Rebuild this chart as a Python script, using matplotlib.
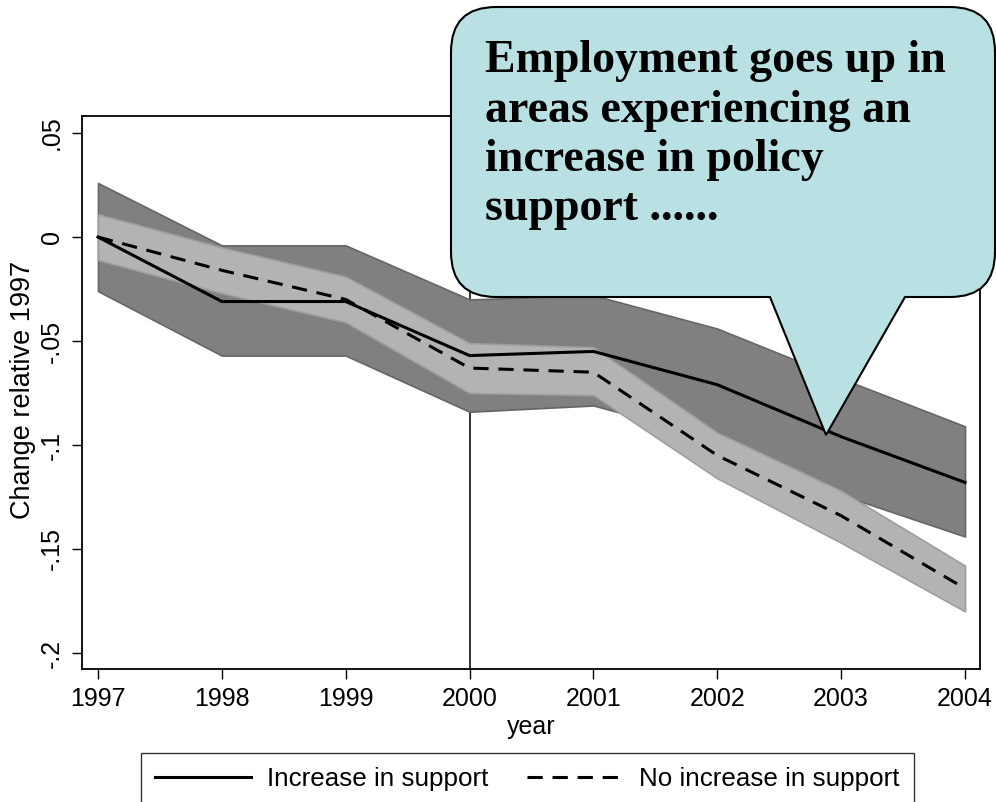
import numpy as np
import matplotlib.pyplot as plt
from matplotlib.path import Path
from matplotlib.patches import PathPatch

plt.rcParams['font.family'] = ['Liberation Sans', 'DejaVu Sans']

years = [1997, 1998, 1999, 2000, 2001, 2002, 2003, 2004]

# increase in support
inc = [0.0, -0.031, -0.031, -0.057, -0.055, -0.071, -0.096, -0.118]
inc_hi = [0.026, -0.004, -0.004, -0.030, -0.028, -0.044, -0.068, -0.091]
inc_lo = [-0.026, -0.057, -0.057, -0.084, -0.081, -0.097, -0.124, -0.144]

# no increase in support
noinc = [0.0, -0.016, -0.030, -0.063, -0.065, -0.105, -0.134, -0.169]
noinc_hi = [0.011, -0.005, -0.019, -0.051, -0.053, -0.094, -0.122, -0.158]
noinc_lo = [-0.011, -0.027, -0.041, -0.075, -0.076, -0.116, -0.147, -0.180]

yticks = [0.05, 0, -0.05, -0.1, -0.15, -0.2]
ytick_labels = ['.05', '0', '-.05', '-.1', '-.15', '-.2']

bubble_lines = ['Employment goes up in', 'areas experiencing an',
                'increase in policy', 'support ......']

W, H = 996, 802
fig = plt.figure(figsize=(W / 100, H / 100), dpi=100)
ax = fig.add_axes([82 / W, 1 - 669 / H, (980 - 82) / W, (669 - 116) / H])

ax.fill_between(years, inc_lo, inc_hi, facecolor='#808080', edgecolor='#666666', lw=1.2, zorder=1)
ax.fill_between(years, noinc_lo, noinc_hi, facecolor='#b3b3b3', edgecolor='#9e9e9e', lw=1.2, zorder=2)
ax.plot(years, inc, color='black', lw=2.2, zorder=3, label='Increase in support')
ax.plot(years, noinc, color='black', lw=2.2, ls=(0, (5, 3.2)), zorder=3, label='No increase in support')
ax.axvline(2000, color='#222222', lw=1.3, zorder=0)

ax.set_xlim(1996.871, 2004.121)
ax.set_ylim(-0.2077, 0.0582)
ax.set_xticks(years)
ax.set_xticklabels([str(y) for y in years], fontsize=18)
ax.set_yticks(yticks)
ax.set_yticklabels(ytick_labels, fontsize=18, rotation=90, va='center')
ax.tick_params(length=7, width=1, pad=6)
for s in ax.spines.values():
    s.set_linewidth(1.3)

fig.text(23 / W, 1 - 390 / H, 'Change relative 1997', rotation=90, fontsize=19.5, ha='center', va='center')
fig.text(531 / W, 1 - 727 / H, 'year', fontsize=18, ha='center', va='center')

leg = fig.legend(loc='upper left', bbox_to_anchor=(141 / W, 1 - 753 / H), ncol=2, fontsize=18.7,
                 frameon=True, fancybox=False, edgecolor='black', handlelength=3.7,
                 handletextpad=0.6, borderpad=0.55, borderaxespad=0, columnspacing=1.5)
leg.get_frame().set_linewidth(1.0)

# speech bubble, in pixel coordinates (image y from top)
L, R, T, B, r = 451, 995, 7, 297, 45
tip = (826, 435)
verts = [(L + r, T), (R - r, T), (R, T), (R, T + r), (R, B - r), (R, B), (R - r, B),
         (905, B), tip, (770, B), (L + r, B), (L, B), (L, B - r), (L, T + r), (L, T), (L + r, T)]
codes = [Path.MOVETO, Path.LINETO, Path.CURVE3, Path.CURVE3, Path.LINETO, Path.CURVE3, Path.CURVE3,
         Path.LINETO, Path.LINETO, Path.LINETO, Path.LINETO, Path.CURVE3, Path.CURVE3, Path.LINETO,
         Path.CURVE3, Path.CURVE3]
verts = [(x / W, 1 - y / H) for x, y in verts]
bubble = PathPatch(Path(verts, codes), facecolor='#b9e0e3', edgecolor='black', lw=1.5,
                   transform=fig.transFigure, zorder=10)
fig.add_artist(bubble)

for i, line in enumerate(bubble_lines):
    fig.text(485 / W, 1 - (72 + 49.5 * i) / H, line, fontsize=33, fontweight='bold',
             family=['Liberation Serif', 'DejaVu Serif'], ha='left', va='baseline', zorder=11)

fig.savefig('out.png', dpi=100)
